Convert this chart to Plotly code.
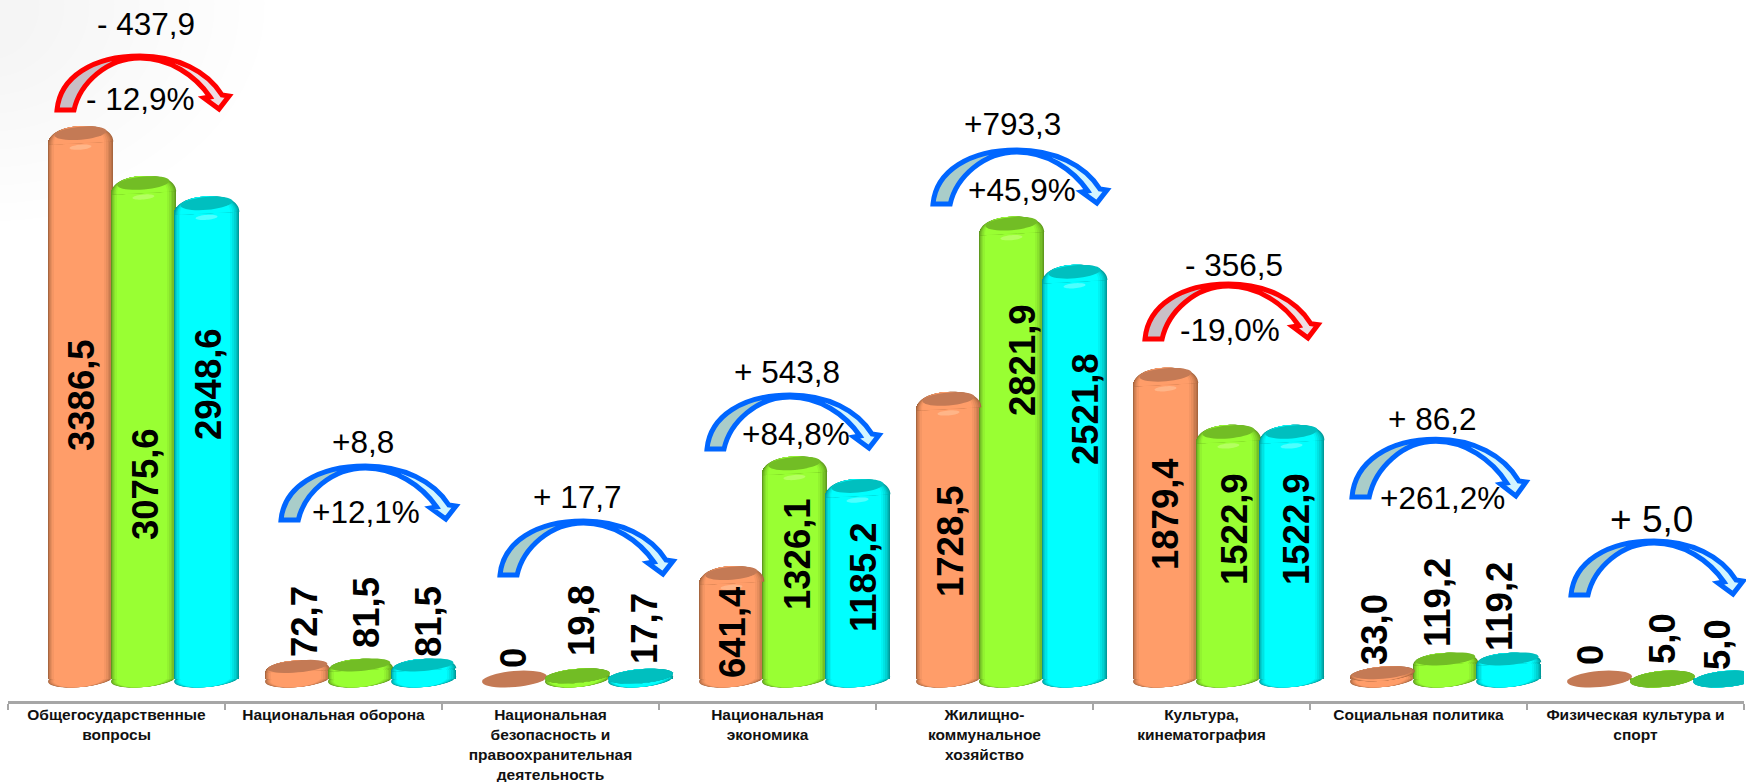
import math
import plotly.graph_objects as go

# ---------- data ----------
categories = [
    "Общегосударственные<br>вопросы",
    "Национальная оборона",
    "Национальная<br>безопасность и<br>правоохранительная<br>деятельность",
    "Национальная<br>экономика",
    "Жилищно-<br>коммунальное<br>хозяйство",
    "Культура,<br>кинематография",
    "Социальная политика",
    "Физическая культура и<br>спорт",
]
series_a = [3386.5, 72.7, 0, 641.4, 1728.5, 1879.4, 33.0, 0]
series_b = [3075.6, 81.5, 19.8, 1326.1, 2821.9, 1522.9, 119.2, 5.0]
series_c = [2948.6, 81.5, 17.7, 1185.2, 2521.8, 1522.9, 119.2, 5.0]
labels_a = ["3386,5", "72,7", "0", "641,4", "1728,5", "1879,4", "33,0", "0"]
labels_b = ["3075,6", "81,5", "19,8", "1326,1", "2821,9", "1522,9", "119,2", "5,0"]
labels_c = ["2948,6", "81,5", "17,7", "1185,2", "2521,8", "1522,9", "119,2", "5,0"]
change_abs = ["- 437,9", "+8,8", "+ 17,7", "+ 543,8", "+793,3", "- 356,5", "+ 86,2", "+ 5,0"]
change_pct = ["- 12,9%", "+12,1%", "", "+84,8%", "+45,9%", "-19,0%", "+261,2%", ""]

# ---------- layout geometry (pixels) ----------
W, H = 1746, 782
ML, MR, MT, MB = 8, 2, 0, 81
PW, PH = W - ML - MR, H - MT - MB
CAT_PX = PW / 8
Y_MIN, Y_MAX = -137.0, 4236.0
PX_PER_UNIT = PH / (Y_MAX - Y_MIN)
BAR_OFFSETS = [-0.316, -0.026, 0.265]
BAR_WIDTH = 0.30
BAR_PX = BAR_WIDTH * CAT_PX

STYLES = [
    dict(edge="#a8663f", core="#ff9d69", cap="#c47a55", hi="#ffc59c"),
    dict(edge="#5f9a1e", core="#99ff33", cap="#72bd25", hi="#c8ff80"),
    dict(edge="#009a9a", core="#00ffff", cap="#00bfbf", hi="#80ffff"),
]
SERIES = [series_a, series_b, series_c]
LABELS = [labels_a, labels_b, labels_c]
INSET_L = [0.0, 0.01, 0.02, 0.035, 0.05, 0.07, 0.09]
INSET_R = [0.0, 0.015, 0.035, 0.055, 0.08, 0.11, 0.14]
MIX = [0.0, 0.2, 0.38, 0.55, 0.72, 0.88, 1.0]

# label centres in reference pixels (x, y), by series then category
LABEL_POS = [
    [(81, 395), (304, 622), (513, 658), (732, 632), (950, 541), (1165, 514), (1374, 630), (1590, 655)],
    [(145, 484), (366, 613), (581, 621), (797, 554), (1022, 360), (1234, 529), (1437, 603), (1662, 639)],
    [(208, 384), (428, 622), (644, 629), (863, 577), (1086, 409), (1296, 529), (1499, 607), (1717, 645)],
]
# text centres
ABS_POS = [(146, 24), (363, 442), (577, 497), (787, 372), (1012, 124), (1234, 265), (1432, 419), (1651, 519)]
PCT_POS = [(140, 99), (366, 512), None, (796, 434), (1022, 190), (1230, 330), (1442, 498), None]
ABS_SIZE = [31.5, 31.5, 31.5, 31.5, 31.5, 31.5, 31.5, 37]
# arrow boxes: left, top, width, height
ARROW_BOX = [(57, 53, 175, 58), (281, 463, 178, 58), (500, 518, 176, 58), (707, 392, 175, 58),
             (933, 147, 177, 58), (1145, 281, 176, 59), (1352, 436, 177, 62), (1571, 538, 175, 58)]
ARROW_RED = [True, False, False, False, False, True, False, False]


def mix(c1, c2, t):
    a = [int(c1[i:i + 2], 16) for i in (1, 3, 5)]
    b = [int(c2[i:i + 2], 16) for i in (1, 3, 5)]
    return "#%02x%02x%02x" % tuple(round(a[k] + (b[k] - a[k]) * t) for k in range(3))


def fx(px):
    return (px - ML) / PW


def fy(py):
    return 1 - (py - MT) / PH


def rot_to_data(xc, v, px, up, tilt):
    t = math.radians(tilt)
    # px to the right, up pixels upward; a negative tilt lifts the right side
    x2 = px * math.cos(t) + up * math.sin(t)
    u2 = -px * math.sin(t) + up * math.cos(t)
    return f"{xc + x2 / CAT_PX:.5f},{v + u2 / PX_PER_UNIT:.3f}"


def ellipse_path(xc, v, rx_px, ry_px, up_px=0.0, dx_px=0.0, tilt=-5.0):
    t = math.radians(tilt)
    pts = []
    for k in range(40):
        a = 2 * math.pi * k / 40
        ex, ey = rx_px * math.cos(a), ry_px * math.sin(a)
        rxp = ex * math.cos(t) - ey * math.sin(t) + dx_px
        ryp = ex * math.sin(t) + ey * math.cos(t) - up_px   # pixel y grows downward
        pts.append((xc + rxp / CAT_PX, v - ryp / PX_PER_UNIT))
    return "M" + "L".join(f"{x:.5f},{y:.3f}" for x, y in pts) + "Z"


def dome_path(xc, v, r, dx, low, top, tilt=-3.0):
    """Rounded top of a cylinder, from `low` px under the bar end to `top` px over it."""
    p = lambda a, b: rot_to_data(xc, v, dx + a, b, tilt)
    return ("M" + p(-r, -low) +
            "C" + p(-r, top * 0.5) + " " + p(-r * 0.55, top) + " " + p(0, top) +
            "C" + p(r * 0.55, top) + " " + p(r, top * 0.5) + " " + p(r, -low) + "Z")


def ellipse_shape(path, color, layer="above", opacity=1.0):
    return dict(type="path", path=path, xref="x", yref="y", fillcolor=color,
                line=dict(width=0), layer=layer, opacity=opacity)


ARROW_T = [
    ("M", [(0, 57)]),
    ("C", [(3, 24), (36, 3), (83, 3)]),
    ("C", [(120, 3), (150, 18), (165, 42)]),
    ("L", [(172, 43)]),
    ("L", [(162, 56)]),
    ("L", [(147, 45)]),
    ("L", [(153, 44)]),
    ("C", [(138, 22), (112, 5), (83, 5)]),
    ("C", [(50, 5), (23, 30), (17, 57)]),
]


def arrow_paths(box):
    l, t, w, h = box
    sx, sy = w / 175, h / 58

    def tr(x, y):
        return f"{fx(l + x * sx):.5f},{fy(t + y * sy):.5f}"

    main = ""
    for cmd, pts in ARROW_T:
        main += cmd + " ".join(tr(*p) for p in pts)
    main += "Z"
    left = "M" + tr(0, 57) + "C" + " ".join(tr(*p) for p in [(3, 24), (36, 3), (83, 4)]) + \
           "C" + " ".join(tr(*p) for p in [(50, 5), (23, 30), (17, 57)]) + "Z"
    return main, left


fig = go.Figure()
shapes = []
annotations = []

# soft grey glow in the top-left corner of the page
for k in range(10):
    shapes.append(dict(type="circle", xref="paper", yref="paper",
                       x0=fx(-60 - 25 * k), x1=fx(40 + 25 * k), y0=fy(-50 - 18 * k), y1=fy(60 + 18 * k),
                       fillcolor="#000000", opacity=0.004, line=dict(width=0), layer="below"))

# nested bars give a cylinder-like shading
for s, (vals, style, off) in enumerate(zip(SERIES, STYLES, BAR_OFFSETS)):
    for il, ir, m in zip(INSET_L, INSET_R, MIX):
        color = mix(style["edge"], style["core"], m)
        fig.add_trace(go.Bar(
            x=categories, y=vals, width=BAR_WIDTH * (1 - il - ir),
            offset=off + BAR_WIDTH * il,
            marker=dict(color=color, line=dict(width=0), cornerradius=6),
            showlegend=False, hoverinfo="skip",
        ))

for s, (vals, style, off) in enumerate(zip(SERIES, STYLES, BAR_OFFSETS)):
    for i, v in enumerate(vals):
        xc = i + off + BAR_WIDTH / 2
        rx = BAR_PX / 2
        if v <= 0:
            shapes.append(ellipse_shape(ellipse_path(xc, 0, rx, 8), style["cap"]))
            continue
        # bottom of the cylinder, then the rounded top, both with the same shading
        for il, ir, m in zip(INSET_L, INSET_R, MIX):
            color = mix(style["edge"], style["core"], m)
            r = rx * (1 - il - ir)
            d = rx * (il - ir)
            shapes.append(ellipse_shape(ellipse_path(xc, 0, r, 8, dx_px=d), color, layer="below"))
            if v >= 300:
                shapes.append(ellipse_shape(dome_path(xc, v, r, d, 7, 10), color))
            elif v >= 60:
                shapes.append(ellipse_shape(dome_path(xc, v, r, d, 4, 7), color))
            elif v >= 10:
                shapes.append(ellipse_shape(ellipse_path(xc, v, r, 7, dx_px=d), color))
        if v < 10:
            shapes.append(ellipse_shape(ellipse_path(xc, 0, rx, 8), style["cap"]))
        elif v < 30:
            shapes.append(ellipse_shape(ellipse_path(xc, v, rx, 7), style["cap"]))
        elif v < 300:
            shapes.append(ellipse_shape(ellipse_path(xc, v, rx * 0.92, 6, up_px=1), style["cap"]))
        else:
            shapes.append(ellipse_shape(ellipse_path(xc, v, rx * 0.8, 6.5, up_px=3), style["cap"]))
            shapes.append(ellipse_shape(ellipse_path(xc, v, 11, 2.5, up_px=-11), style["hi"], opacity=0.6))

# curved arrows
for box, red in zip(ARROW_BOX, ARROW_RED):
    main, left = arrow_paths(box)
    stroke = "#ff0000" if red else "#0066ff"
    fill_r = "#eedde2" if red else "#d2f5ff"
    fill_l = "#c9bfc6" if red else "#a9cdc9"
    shapes.append(dict(type="path", path=main, xref="paper", yref="paper", fillcolor=fill_r,
                       line=dict(width=0), layer="above"))
    shapes.append(dict(type="path", path=left, xref="paper", yref="paper", fillcolor=fill_l,
                       line=dict(width=0), layer="above"))
    shapes.append(dict(type="path", path=main, xref="paper", yref="paper", fillcolor="rgba(0,0,0,0)",
                       line=dict(color=stroke, width=5), layer="above"))

# rotated value labels
for labs, poss in zip(LABELS, LABEL_POS):
    for lab, (px, py) in zip(labs, poss):
        annotations.append(dict(text=lab, xref="paper", yref="paper", x=fx(px), y=fy(py),
                                xanchor="center", yanchor="middle", textangle=-90, showarrow=False,
                                font=dict(family="Liberation Sans", size=36.5, color="#000000", weight="bold")))

for lab, pos, size in zip(change_abs, ABS_POS, ABS_SIZE):
    annotations.append(dict(text=lab, xref="paper", yref="paper", x=fx(pos[0]), y=fy(pos[1]),
                            xanchor="center", yanchor="middle", showarrow=False,
                            font=dict(family="Liberation Sans", size=size, color="#000000")))
for lab, pos in zip(change_pct, PCT_POS):
    if pos is None:
        continue
    annotations.append(dict(text=lab, xref="paper", yref="paper", x=fx(pos[0]), y=fy(pos[1]),
                            xanchor="center", yanchor="middle", showarrow=False,
                            font=dict(family="Liberation Sans", size=31.5, color="#000000")))

fig.update_layout(
    width=W, height=H, autosize=False,
    margin=dict(l=ML, r=MR, t=MT, b=MB, pad=0),
    paper_bgcolor="#ffffff", plot_bgcolor="rgba(0,0,0,0)",
    barmode="overlay", bargap=0, showlegend=False,
    shapes=shapes, annotations=annotations,
    xaxis=dict(
        type="category", categoryorder="array", categoryarray=categories,
        range=[-0.5, 7.5], tickson="boundaries", ticks="outside", ticklen=6, tickwidth=2,
        tickcolor="#a6a6a6", showline=True, linecolor="#a6a6a6", linewidth=3, showgrid=False,
        zeroline=False, tickangle=0, automargin=False, ticklabelstandoff=-3,
        tickfont=dict(family="Liberation Sans", size=15.5, color="#111111", weight="bold"),
    ),
    yaxis=dict(range=[Y_MIN, Y_MAX], visible=False, showgrid=False, zeroline=False),
)

fig.write_html("out.html", config=dict(displayModeBar=False),
               post_script="document.body.style.margin='0';document.body.style.overflow='hidden';")
